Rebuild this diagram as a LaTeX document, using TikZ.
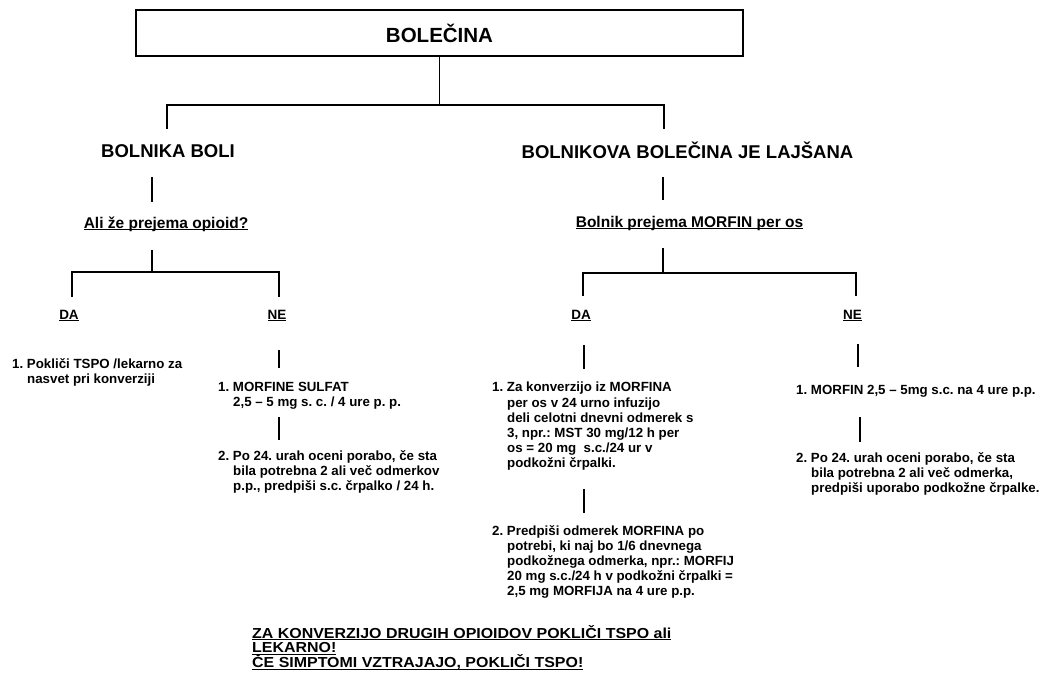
\documentclass[tikz,border=0pt]{standalone}
\usepackage{fontspec}
\setmainfont{Liberation Sans}
\usetikzlibrary{positioning}
\newcommand{\ulin}[1]{\setbox0\hbox{#1}\rlap{\smash{\rule[-2.2pt]{\wd0}{1.1pt}}}\box0}
\newcommand{\hind}{\hspace*{15pt}}
\newcommand{\wide}[1]{\ulin{\scalebox{1.1}[1]{#1}}}
\tikzset{
  titlebox/.style={rectangle, draw=black, line width=1.8pt, minimum width=607pt, minimum height=46pt, font=\fontsize{20.5}{24}\selectfont\bfseries},
  head/.style={anchor=base, inner sep=0pt, font=\fontsize{18.5}{22}\selectfont\bfseries},
  question/.style={anchor=base, inner sep=0pt, font=\fontsize{15.5}{18}\selectfont\bfseries},
  answer/.style={anchor=base, inner sep=0pt, font=\fontsize{13.5}{16}\selectfont\bfseries},
  note/.style={anchor=north west, align=left, inner sep=0pt, font=\fontsize{13.3}{15.2}\selectfont\bfseries},
  warn/.style={anchor=north west, align=left, inner sep=0pt, font=\fontsize{14.5}{14.8}\selectfont\bfseries},
  link/.style={line width=1.2pt}
}
\begin{document}
\frenchspacing
\begin{tikzpicture}[x=1pt, y=-1pt]
  \useasboundingbox (0,0) rectangle (1042,677);
  \node[titlebox] (root) at (439.5,33) {BOLEČINA};
  \node[head] (boli) at (168,157) {BOLNIKA BOLI};
  \node[head] (lajsana) at (687.5,158) {BOLNIKOVA BOLEČINA JE LAJŠANA};
  \node[question] (opioid) at (166,228) {\ulin{Ali že prejema opioid?}};
  \node[question] (peros) at (689.5,227) {\ulin{Bolnik prejema MORFIN per os}};
  \node[answer] (lda) at (69,319) {\ulin{DA}};
  \node[answer] (lne) at (277,319) {\ulin{NE}};
  \node[answer] (rda) at (581,319) {\ulin{DA}};
  \node[answer] (rne) at (852.5,319) {\ulin{NE}};
  \node[note] (ldanote) at (12,358) {1. Pokliči TSPO /lekarno za\\\hind nasvet pri konverziji};
  \node[note] (lneone) at (218,382) {1. MORFINE SULFAT\\\hind 2,5 – 5 mg s. c. / 4 ure p. p.};
  \node[note] (lnetwo) at (218,450) {2. Po 24. urah oceni porabo, če sta\\\hind bila potrebna 2 ali več odmerkov\\\hind p.p., predpiši s.c. črpalko / 24 h.};
  \node[note] (rdaone) at (492,382) {1. Za konverzijo iz MORFINA\\\hind per os v 24 urno infuzijo\\\hind deli celotni dnevni odmerek s\\\hind 3, npr.: MST 30 mg/12 h per\\\hind os = 20 mg\ \ s.c./24 ur v\\\hind podkožni črpalki.};
  \node[note] (rdatwo) at (492,525) {2. Predpiši odmerek MORFINA po\\\hind potrebi, ki naj bo 1/6 dnevnega\\\hind podkožnega odmerka, npr.: MORFIJ\\\hind 20 mg s.c./24 h v podkožni črpalki =\\\hind 2,5 mg MORFIJA na 4 ure p.p.};
  \node[note] (rneone) at (796,385) {1. MORFIN 2,5 – 5mg s.c. na 4 ure p.p.};
  \node[note] (rnetwo) at (796,452) {2. Po 24. urah oceni porabo, če sta\\\hind bila potrebna 2 ali več odmerka,\\\hind predpiši uporabo podkožne črpalke.};
  \node[warn] (konv) at (252,625) {\wide{ZA KONVERZIJO DRUGIH OPIOIDOV POKLIČI TSPO ali}\\\wide{LEKARNO!}\\\wide{ČE SIMPTOMI VZTRAJAJO, POKLIČI TSPO!}};
  \coordinate (j0) at (439.5,105);
  \coordinate (l0) at (167,129);
  \coordinate (r0) at (664,129);
  \coordinate (l1) at (152,177);
  \coordinate (l2) at (152,202);
  \coordinate (l3) at (152,250);
  \coordinate (jl) at (152,272);
  \coordinate (lda0) at (72,297);
  \coordinate (lne0) at (279,297);
  \coordinate (r1) at (663,177);
  \coordinate (r2) at (663,200);
  \coordinate (r3) at (663,248);
  \coordinate (jr) at (663,273);
  \coordinate (rda0) at (583,296);
  \coordinate (rne0) at (856,296);
  \coordinate (lne1) at (279,350);
  \coordinate (lne2) at (279,368);
  \coordinate (lne3) at (279,417);
  \coordinate (lne4) at (279,440);
  \coordinate (rda1) at (584,345);
  \coordinate (rda2) at (584,369);
  \coordinate (rda3) at (584,489);
  \coordinate (rda4) at (584,513);
  \coordinate (rne1) at (858,344);
  \coordinate (rne2) at (858,367);
  \coordinate (rne3) at (860,417);
  \coordinate (rne4) at (860,442);
  \draw[link] (root.south) -- (j0);
  \draw[link] (l0) |- (j0) -| (r0);
  \draw[link] (l1) -- (l2);
  \draw[link] (l3) -- (jl);
  \draw[link] (lda0) |- (jl) -| (lne0);
  \draw[link] (r1) -- (r2);
  \draw[link] (r3) -- (jr);
  \draw[link] (rda0) |- (jr) -| (rne0);
  \draw[link] (lne1) -- (lne2);
  \draw[link] (lne3) -- (lne4);
  \draw[link] (rda1) -- (rda2);
  \draw[link] (rda3) -- (rda4);
  \draw[link] (rne1) -- (rne2);
  \draw[link] (rne3) -- (rne4);
\end{tikzpicture}
\end{document}
